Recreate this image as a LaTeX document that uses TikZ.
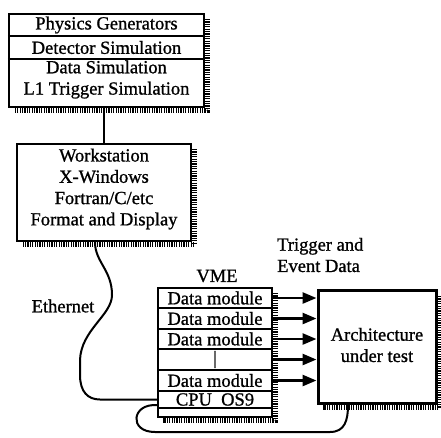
\documentclass[tikz,border=0pt]{standalone}
\usepackage{fontspec}
\setmainfont{Liberation Serif}[BoldFont=Liberation Serif, BoldFeatures={FakeBold=1}]
\usetikzlibrary{arrows.meta,calc}

\tikzset{
  lbl/.style={font=\fontsize{18.5}{21.3}\selectfont\bfseries, inner sep=0pt, align=center},
  frame/.style={draw, line width=2.4pt, fill=white, inner sep=0pt},
  shadowstrip/.style={draw=black, line width=4.6pt, dash pattern=on 1.2pt off 1.2pt},
  cell/.style={frame, lbl, minimum width=114pt},
  divider/.style={line width=2.4pt},
  cable/.style={line width=2pt},
  sig/.style={line width=2.6pt, -{Triangle[length=14pt,width=11pt]}},
}

\begin{document}
\begin{tikzpicture}[x=1pt,y=-1pt]
\useasboundingbox (0,0) rectangle (441,437);

% simulation chain
\node[frame, minimum width=195pt, minimum height=93pt] (gen) at (106.5,60.5) {};
\coordinate (d1) at (0,36);
\coordinate (d2) at (0,59);
\draw[divider] (gen.west |- d1) -- (gen.east |- d1);
\draw[divider] (gen.west |- d2) -- (gen.east |- d2);
\node[lbl] (pg) at (106.5,25) {Physics Generators};
\node[lbl] (ds) at (106.5,47.5) {Detector Simulation};
\node[lbl] (dsim) at (106.5,79.5) {Data Simulation\\L1 Trigger Simulation};

% workstation
\node[frame, minimum width=174pt, minimum height=97pt] (ws) at (104,192.5) {};
\node[lbl] (wstext) at (104,189) {Workstation\\X-Windows\\Fortran/C/etc\\Format and Display};

% VME crate
\node[frame, minimum width=114pt, minimum height=129pt] (vme) at (215,352.5) {};
\node[cell, minimum height=20pt] (r1) at (215,298) {Data module};
\node[cell, minimum height=21pt] (r2) at (215,318.5) {Data module};
\node[cell, minimum height=20pt] (r3) at (215,339) {Data module};
\node[cell, minimum height=21pt] (r4) at (215,359.5) {|};
\node[cell, minimum height=21pt] (r5) at (215,380.5) {Data module};
\node[cell, minimum height=17pt] (cpu) at (215,399.5) {CPU\ \ OS9};
\node[lbl] (vmel) at (217,276) {VME};

% device under test
\node[frame, line width=3pt, minimum width=118pt, minimum height=113pt] (arch) at (377,347) {};
\node[lbl] (archtext) at (377,345) {Architecture\\under test};

% stippled drop shadows along the right and bottom edges
\path[shadowstrip] (207.6,19) -- (207.6,110.6) -- (14,110.6);
\path[shadowstrip] (194.6,149) -- (194.6,244.6) -- (22,244.6);
\path[shadowstrip] (275.6,293) -- (275.6,420.6) -- (163,420.6);
\path[shadowstrip] (439.6,296) -- (439.6,407.6) -- (323,407.6);

\node[lbl, anchor=west, align=left] (trig) at (277,255) {Trigger and\\Event Data};
\node[lbl] (ethl) at (63,306) {Ethernet};

\draw[cable] (gen.south -| ws.north) -- (ws.north);

% data paths
\foreach \r in {r1,r2,r3,r4,r5}
  \draw[sig] (\r.east) -- (\r.east -| arch.west);

% cables
\draw[cable] ($(ws.south)+(-9,0)$) .. controls (95,262) and (112,270) .. (112,295)
  .. controls (112,315) and (81,330) .. (80,360) -- (80,375)
  .. controls (80,392) and (88,399.5) .. (100,399.5) -- (cpu.west);
\draw[cable] ($(cpu.south west)+(0,-4)$) .. controls (132,403) and (128,432) .. (155,432)
  -- (330,432) .. controls (345,432) and (348,420) .. ($(arch.south)+(-29,0)$);
\end{tikzpicture}
\end{document}
